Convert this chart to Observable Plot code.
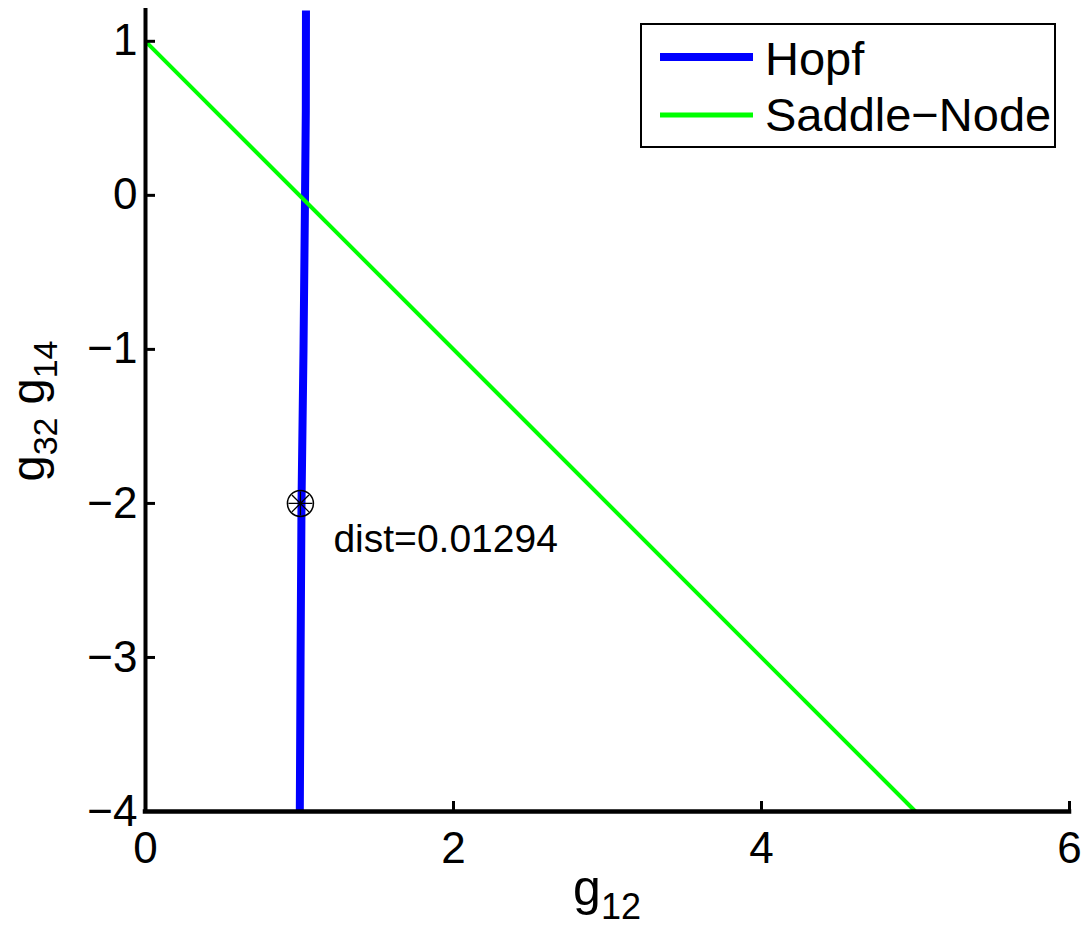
<!DOCTYPE html>
<html><head><meta charset="utf-8">
<script src="https://cdn.jsdelivr.net/npm/d3@7"></script>
<script src="https://cdn.jsdelivr.net/npm/@observablehq/plot@0.6"></script>
<style>
body{margin:0;background:#fff}
svg{font-family:"Liberation Sans",Arial,Helvetica,sans-serif}
</style>
</head><body><div id="chart"></div>
<script>
// ---- data ----
const xTicks = [0, 2, 4, 6];
const yTicks = [-4, -3, -2, -1, 0, 1];
const hopfY = [-4, -3, -2, -1, 0, 0.55, 1.2];
const hopfX = [1.002, 1.007, 1.013, 1.026, 1.036, 1.041, 1.042];
const snX = [0, 5];
const snY = [1, -4];
const markX = [1.006];
const markY = [-2];
const markLabel = ["dist=0.01294"];
const seriesNames = ["Hopf", "Saddle\u2212Node"];
const seriesColors = ["#0000ff", "#00ff00"];

const hopf = hopfX.map((x, i) => ({x, y: hopfY[i]}));
const sn = snX.map((x, i) => ({x, y: snY[i]}));
const marks = markX.map((x, i) => ({x, y: markY[i], label: markLabel[i]}));

const W = 1083, H = 928, mL = 145, mR = 14, mT = 10, mB = 117;
const innerW = W - mL - mR, innerH = H - mT - mB;
const fmt = d3.format("");

const star8 = {
  draw(ctx, size) {
    const r = Math.sqrt(size / Math.PI);
    for (let k = 0; k < 4; k++) {
      const a = k * Math.PI / 4;
      ctx.moveTo(-r * Math.cos(a), -r * Math.sin(a));
      ctx.lineTo(r * Math.cos(a), r * Math.sin(a));
    }
  }
};

const chart = Plot.plot({
  width: W, height: H,
  marginLeft: mL, marginRight: mR, marginTop: mT, marginBottom: mB,
  x: {domain: [0, 6]},
  y: {domain: [-4, 1.2]},
  style: {background: "#fff", color: "#000", overflow: "visible"},
  marks: [
    Plot.line(hopf, {x: "x", y: "y", stroke: seriesColors[0], strokeWidth: 8, strokeLinecap: "butt"}),
    Plot.line(sn, {x: "x", y: "y", stroke: seriesColors[1], strokeWidth: 4, strokeLinecap: "butt"}),
    Plot.ruleX(xTicks, {stroke: "#000", strokeWidth: 3, insetTop: innerH - 10}),
    Plot.ruleY(yTicks, {stroke: "#000", strokeWidth: 3, insetRight: innerW - 10}),
    Plot.ruleX([0], {stroke: "#000", strokeWidth: 4, strokeLinecap: "square"}),
    Plot.ruleY([-4], {stroke: "#000", strokeWidth: 4.5, strokeLinecap: "square"}),
    Plot.axisX({ticks: xTicks, tickSize: 0, tickPadding: 20, fontSize: 44, label: null, tickFormat: fmt}),
    Plot.axisY({ticks: yTicks, tickSize: 0, tickPadding: 8, fontSize: 44, label: null, tickFormat: fmt}),
    Plot.dot(marks, {x: "x", y: "y", r: 13, stroke: "#000", strokeWidth: 1.5, fill: "none"}),
    Plot.dot(marks, {x: "x", y: "y", r: 12, symbol: star8, stroke: "#000", strokeWidth: 1.3, fill: "none"}),
    Plot.text(marks, {x: "x", y: "y", text: "label", textAnchor: "start", dx: 33, dy: 36, fontSize: 39, fill: "#000"})
  ]
});
document.getElementById("chart").appendChild(chart);

const svg = d3.select(chart);

// label with subscripts built from separate text pieces
function subLabel(parent, parts, main, sub, shift) {
  const g = parent.append("g");
  let x = 0;
  parts.forEach(([t, isSub]) => {
    const el = g.append("text").attr("x", x).attr("y", isSub ? shift : 0)
      .attr("text-anchor", "start").attr("font-size", isSub ? sub : main)
      .attr("fill", "#000").text(t);
    x += el.node().getComputedTextLength();
  });
  g.selectAll("text").attr("x", function() { return +d3.select(this).attr("x") - x / 2; });
  return g;
}
const xlg = svg.append("g").attr("transform", "translate(607,905)");
subLabel(xlg, [["g", false], ["12", true]], 50, 36, 14);
const ylg = svg.append("g").attr("transform", "translate(44,411) rotate(-90)");
subLabel(ylg, [["g", false], ["32", true], ["\u00a0g", false], ["14", true]], 47, 34, 13);

// legend
const lg = svg.append("g");
lg.append("rect").attr("x", 641).attr("y", 24).attr("width", 414).attr("height", 123)
  .attr("fill", "#fff").attr("stroke", "#000").attr("stroke-width", 2);
const lw = [8, 5], ly = [57, 115], tb = [75, 131];
seriesNames.forEach((n, i) => {
  lg.append("line").attr("x1", 660).attr("x2", 753).attr("y1", ly[i]).attr("y2", ly[i])
    .attr("stroke", seriesColors[i]).attr("stroke-width", lw[i]);
  lg.append("text").attr("x", 765).attr("y", tb[i]).attr("text-anchor", "start")
    .attr("font-size", 47).attr("fill", "#000").text(n);
});
</script>
</body></html>
